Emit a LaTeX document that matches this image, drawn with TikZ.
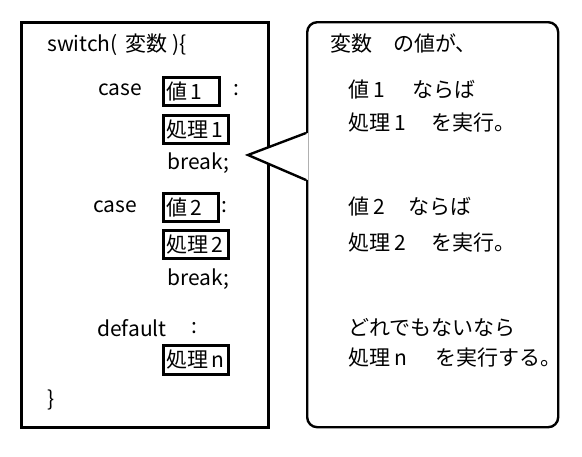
\documentclass[tikz,border=0pt]{standalone}
\usepackage{fontspec}
\setmainfont{Noto Sans CJK JP}
\usetikzlibrary{positioning}

\begin{document}
\begin{tikzpicture}[
    x=1pt, y=-1pt,
    code/.style={font=\fontsize{21}{25}\selectfont, inner sep=0pt},
    slot/.style={draw, line width=2.8pt, font=\fontsize{21}{25}\selectfont, anchor=north west,
                 inner xsep=3pt, inner ysep=0pt, minimum height=28pt, align=left},
    frame/.style={draw, line width=2.6pt},
  ]
  \useasboundingbox (0,0) rectangle (582,456);

  % ========= LEFT: CODE =========
  \node[frame, anchor=north west, minimum width=247pt, minimum height=405pt] (codebox) at (20,21) {};

  \node[code, anchor=west] (head) at (47,45) {switch(\, 変数 )\{};

  % case 1
  \node[code, anchor=east] (case1) at (142,90) {case};
  \node[slot, text width=50pt] (val1) at (162,76) {\mbox{値\,1}};
  \node[code] (colon1) at (236,90) {:};
  \node[slot, text width=59pt] (proc1) at (162,114) {\mbox{処理\,1}};
  \node[code, anchor=west] (brk1) at (167,163) {break;};

  % case 2
  \node[code, anchor=east] (case2) at (137,207) {case};
  \node[slot, text width=49pt] (val2) at (162,192) {\mbox{値\,2}};
  \node[code] (colon2) at (224,207) {:};
  \node[slot, text width=59pt] (proc2) at (162,229) {\mbox{処理\,2}};
  \node[code, anchor=west] (brk2) at (167,279) {break;};

  % default
  \node[code, anchor=west] (dflt) at (97,328) {default};
  \node[code] (colon3) at (194,328) {:};
  \node[slot, text width=59pt, minimum height=29pt] (procn) at (162,344) {\mbox{処理\,n}};

  \node[code, anchor=west] (tail) at (47,400) {\}};

  % ========= RIGHT: BUBBLE =========
  \node[frame, line width=2.4pt, rounded corners=10pt, anchor=north west,
        minimum width=251pt, minimum height=405pt] (bubble) at (306,21) {};
  \coordinate (tip) at (248,155);
  \coordinate (topA) at (bubble.west |- 0,133);
  \coordinate (botA) at (bubble.west |- 0,180);
  \fill[white] (tip) -- ([xshift=2pt]topA) -- ([xshift=2pt]botA) -- cycle;
  \draw[frame, line width=2.4pt, line join=miter] (topA) -- (tip) -- (botA);

  \node[code, anchor=west] (say0) at (330,43) {変数　の値が、};
  \node[code, anchor=west] (say1) at (348,90) {値 1\hspace{1.3em}ならば};
  \node[code, anchor=west] (say2) at (348,123) {処理 1\hspace{1.2em}を実行。};
  \node[code, anchor=west] (say3) at (348,207) {値 2\hspace{1.1em}ならば};
  \node[code, anchor=west] (say4) at (348,243) {処理 2\hspace{1.2em}を実行。};
  \node[code, anchor=west] (say5) at (348,328) {どれでもないなら};
  \node[code, anchor=west] (say6) at (348,358) {処理 n\hspace{1.3em}を実行する。};
\end{tikzpicture}
\end{document}
